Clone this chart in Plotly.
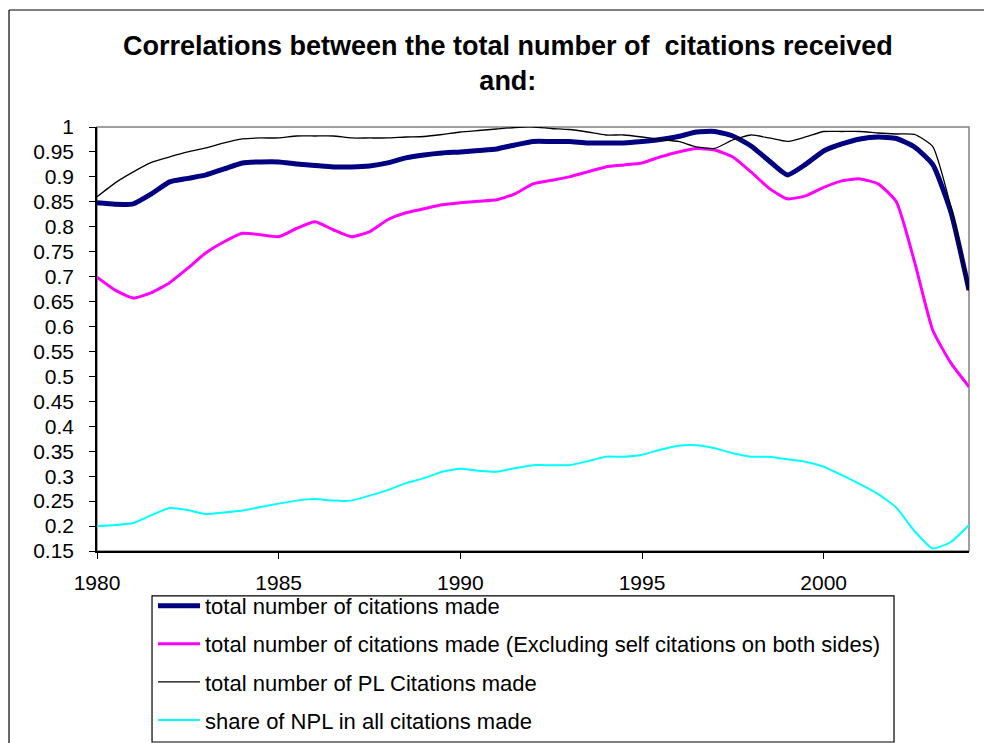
import plotly.graph_objects as go

years = [1980 + 0.5 * k for k in range(49)]

total_citations = [
    0.848, 0.845, 0.846, 0.866, 0.890, 0.897, 0.904, 0.916, 0.928, 0.930,
    0.930, 0.926, 0.923, 0.920, 0.920, 0.922, 0.928, 0.938, 0.944, 0.948,
    0.950, 0.953, 0.956, 0.964, 0.971, 0.971, 0.971, 0.968, 0.968, 0.968,
    0.971, 0.975, 0.981, 0.990, 0.991, 0.982, 0.962, 0.932, 0.904, 0.925,
    0.952, 0.966, 0.976, 0.980, 0.977, 0.960, 0.925, 0.830, 0.673,
]

excl_self = [
    0.699, 0.673, 0.657, 0.668, 0.688, 0.717, 0.748, 0.770, 0.787, 0.784,
    0.780, 0.797, 0.810, 0.794, 0.780, 0.790, 0.814, 0.828, 0.836, 0.844,
    0.848, 0.851, 0.854, 0.866, 0.886, 0.893, 0.900, 0.910, 0.920, 0.924,
    0.928, 0.940, 0.950, 0.957, 0.954, 0.940, 0.910, 0.877, 0.856, 0.862,
    0.879, 0.892, 0.896, 0.886, 0.850, 0.730, 0.593, 0.527, 0.479,
]

pl_citations = [
    0.860, 0.888, 0.910, 0.929, 0.940, 0.950, 0.958, 0.968, 0.976, 0.978,
    0.978, 0.982, 0.982, 0.982, 0.978, 0.978, 0.978, 0.980, 0.981, 0.985,
    0.990, 0.993, 0.996, 0.999, 1.000, 0.997, 0.995, 0.990, 0.984, 0.984,
    0.980, 0.975, 0.971, 0.960, 0.957, 0.974, 0.984, 0.978, 0.971, 0.980,
    0.991, 0.991, 0.991, 0.988, 0.986, 0.985, 0.961, 0.840, 0.672,
]

npl_share = [
    0.200, 0.202, 0.206, 0.222, 0.236, 0.232, 0.224, 0.227, 0.231, 0.238,
    0.245, 0.251, 0.254, 0.251, 0.251, 0.261, 0.272, 0.286, 0.296, 0.309,
    0.315, 0.311, 0.309, 0.316, 0.322, 0.322, 0.322, 0.330, 0.339, 0.339,
    0.343, 0.353, 0.361, 0.362, 0.356, 0.346, 0.339, 0.339, 0.334, 0.329,
    0.319, 0.302, 0.284, 0.264, 0.237, 0.190, 0.155, 0.168, 0.202,
]

series_names = [
    "total number of citations made",
    "total number of citations made (Excluding self citations on both sides)",
    "total number of PL Citations made",
    "share of NPL in all citations made",
]

y_tick_vals = [1.0, 0.95, 0.9, 0.85, 0.8, 0.75, 0.7, 0.65, 0.6, 0.55, 0.5,
               0.45, 0.4, 0.35, 0.3, 0.25, 0.2, 0.15]
y_tick_text = ["1", "0.95", "0.9", "0.85", "0.8", "0.75", "0.7", "0.65", "0.6",
               "0.55", "0.5", "0.45", "0.4", "0.35", "0.3", "0.25", "0.2", "0.15"]
x_tick_vals = [1980, 1985, 1990, 1995, 2000]
x_tick_text = ["1980", "1985", "1990", "1995", "2000"]

FONT = "Liberation Sans, Arial, sans-serif"

fig = go.Figure()
styles = [
    dict(color="#000080", width=5),
    dict(color="#FF00FF", width=3),
    dict(color="#000000", width=1.3),
    dict(color="#00FFFF", width=2),
]
for i, (name, vals) in enumerate(zip(series_names,
                                     [total_citations, excl_self, pl_citations, npl_share])):
    fig.add_trace(go.Scatter(
        x=years, y=vals, mode="lines", name=name, legendgroup=f"g{i}",
        line=dict(color=styles[i]["color"], width=styles[i]["width"],
                  shape="spline", smoothing=0.5),
    ))

fig.update_layout(
    width=984, height=735,
    margin=dict(l=89, r=23, t=119, b=192, autoexpand=False),
    paper_bgcolor="white", plot_bgcolor="white",
    font=dict(family=FONT, color="black"),
    title=dict(
        text="Correlations between the total number of  citations received<br>and:",
        font=dict(family=FONT, size=27, color="black", weight="bold"),
        x=0.508, xanchor="center", xref="container",
        y=1 - 46.8 / 735, yanchor="top", yref="container",
    ),
    xaxis=dict(
        range=[1980, 2004], tickvals=x_tick_vals, ticktext=x_tick_text,
        ticks="outside", ticklen=6, tickcolor="black", tickwidth=1,
        showline=True, linecolor="black", linewidth=1.5,
        showgrid=False, zeroline=False,
        tickfont=dict(family=FONT, size=21, color="black"),
        ticklabelstandoff=6,
    ),
    yaxis=dict(
        range=[0.15, 1.0], tickvals=y_tick_vals, ticktext=y_tick_text,
        ticks="outside", ticklen=6, tickcolor="black", tickwidth=1,
        showline=True, linecolor="black", linewidth=1.5,
        showgrid=False, zeroline=False,
        tickfont=dict(family=FONT, size=21, color="black"),
        ticklabelstandoff=11,
    ),
    legend=dict(
        x=0.0642, y=-0.080, xanchor="left", yanchor="top",
        borderwidth=0, bgcolor="rgba(0,0,0,0)",
        font=dict(family=FONT, size=22, color="black"),
        traceorder="grouped", tracegroupgap=6.5, itemwidth=42,
    ),
    showlegend=True,
    shapes=[
        dict(type="rect", xref="paper", yref="paper", x0=0, x1=1, y0=0, y1=1,
             line=dict(color="#808080", width=1.5), layer="below"),
        dict(type="line", xref="paper", yref="paper", x0=-0.1009, x1=1.2,
             y0=1.276, y1=1.276, line=dict(color="black", width=1.2),
             layer="below"),
        dict(type="line", xref="paper", yref="paper", x0=-0.1009, x1=-0.1009,
             y0=-0.8, y1=1.276, line=dict(color="black", width=1.2),
             layer="below"),
        dict(type="rect", xref="paper", yref="paper", x0=0.0631, x1=0.914,
             y0=-0.4505, y1=-0.106, line=dict(color="black", width=1.2),
             fillcolor="white", layer="below"),
    ],
)

fig.write_html("out.html")
